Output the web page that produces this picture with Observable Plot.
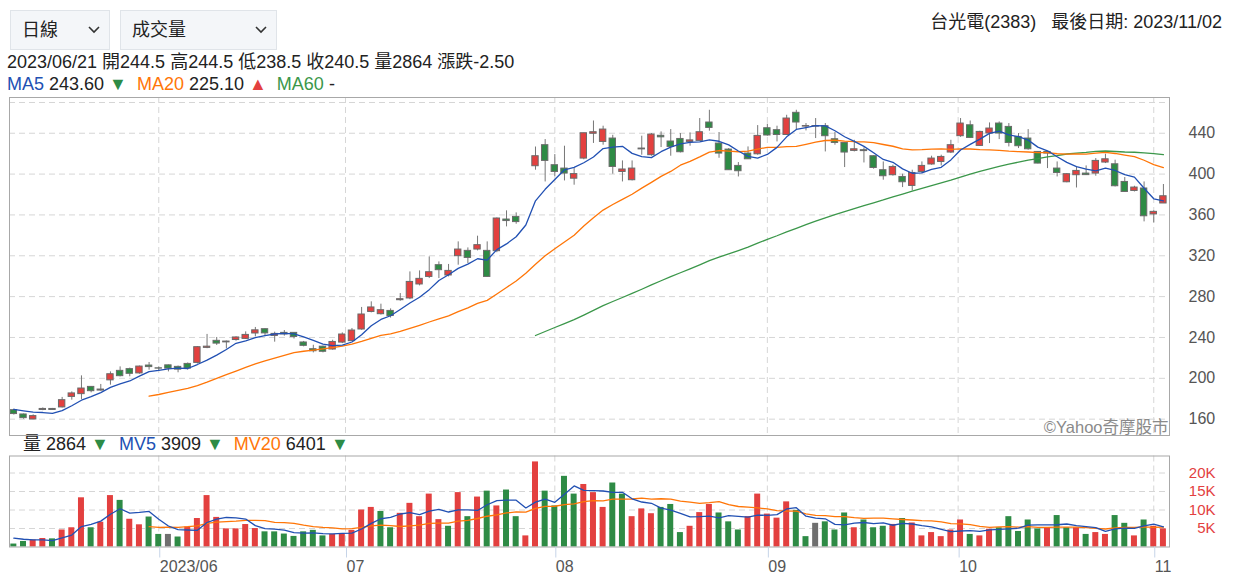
<!DOCTYPE html>
<html><head><meta charset="utf-8">
<script src="https://cdn.jsdelivr.net/npm/d3@7"></script>
<script src="https://cdn.jsdelivr.net/npm/@observablehq/plot@0.6"></script>
<style>
body{margin:0;background:#fff;font-family:"Liberation Sans","Noto Sans CJK TC",sans-serif;color:#222;}
#wrap{position:relative;width:1233px;height:588px;overflow:hidden;}
.sel{position:absolute;top:10px;height:40px;box-sizing:border-box;background:#f4f6f9;border:1px solid #e0e4e9;font-size:18px;line-height:38px;padding-left:11px;color:#222;}
.sel svg{position:absolute;right:9px;top:15px;}
#title{position:absolute;right:11px;top:11px;font-size:18px;line-height:22px;color:#222;white-space:pre;}
#info{position:absolute;left:7px;top:51px;font-size:18px;line-height:22px;white-space:pre;}
#ma{position:absolute;left:7px;top:73px;font-size:18px;line-height:22px;white-space:pre;}
#vleg{position:absolute;left:23px;top:433px;font-size:18px;line-height:22px;white-space:pre;}
#price{position:absolute;left:0;top:96px;}
#vol{position:absolute;left:0;top:455px;}
</style></head>
<body><div id="wrap">
<div class="sel" style="left:10px;width:100px">日線<svg width="12" height="8"><polyline points="1,1 6,6 11,1" fill="none" stroke="#333" stroke-width="1.6"/></svg></div>
<div class="sel" style="left:120px;width:157px">成交量<svg width="12" height="8"><polyline points="1,1 6,6 11,1" fill="none" stroke="#333" stroke-width="1.6"/></svg></div>
<div id="title"></div>
<div id="info"></div>
<div id="ma"></div>
<div id="vleg"></div>
<div id="price"></div>
<div id="vol"></div>
</div>
<script>
// ---- data ----
const stockName = "台光電(2383)";
const startDate = "2023-05-11";
const holidays = ["2023-06-22","2023-06-23","2023-08-03","2023-09-29","2023-10-09","2023-10-10"];
const selectedIndex = 29;
const preClose = [177, 167.5, 169.5, 172, 173.5];
const preVolume = [6800, 3000, 2900, 2300, 3000];
const open = [168.8,164.6,159.7,169,170,171.5,181.8,184.5,191.6,188,
198,207.3,209,204.8,212.5,209.8,212.7,211.2,214.1,215.1,
229.8,236.7,235.2,237.5,238.6,243.9,248.1,241.5,244.5,244.5,
235.1,228.5,231,228.2,235,236.4,247.8,265,262.8,266,
276.5,278.2,291.9,299.3,310.8,300.7,319.6,324.8,326.1,324.8,
324.5,355.5,358.1,388,407.7,428.3,408.7,405.4,395.5,415.2,
439.5,431.5,434.8,402.1,394,424.2,418.5,437.5,431.9,434.4,
431.5,432.5,450.5,429.9,424,408,420.1,419.4,444.9,443,
438.3,460,446.5,446.5,446.9,434.1,430.5,422.7,423.4,417.5,
403.8,398.9,397.2,388.4,402.1,409.4,411.9,421.1,437.1,447.8,
427.6,439.7,449.5,446.2,436.4,434.8,421.7,420.1,405.4,392,
398.9,400.5,400.5,411.3,409.6,392.3,383.5,385.9,360.5,371.2];
const high = [169.8,165,164.2,171,170.5,181.3,186.7,202.4,192,194,
206.3,211.2,210,212,215.5,211.2,213,212,215,231,
243,240,236.5,240.6,245.5,249.8,248.5,245.2,246.8,244.5,
236.1,232.4,231.5,237.3,244.5,248.8,269.4,274.9,272.6,268,
283,304.2,305.2,318.9,314,311.5,333.6,327.7,339.2,333.6,
357,364,362,388,426.5,433.8,419.1,427.3,405.4,440,
452,446.9,438,412.9,412.9,437.1,439.7,441.3,443.6,439.7,
440.3,454.4,462.5,440.7,425,411.3,426.6,447.5,448.8,446.9,
457.6,462.5,449.5,454.4,449.5,440.7,431,433.1,425.6,418,
411.9,408.7,399.9,403.8,411.9,417.5,418.5,433.1,454.4,452,
442,450.1,451.1,449.5,439.7,443.6,422,421.7,411.9,400.5,
407,408,415.2,419.4,413.6,396.6,388.1,392.3,364,389.8];
const low = [164,160,159.5,168.3,168.5,171,178.6,179.3,185.8,187.4,
193.3,201.4,201.5,204,208,207,206.3,205.4,208,214,
229,232.2,228.8,236.4,238,240.6,241.3,235.4,241.3,238.5,
230.8,224.9,224.9,227.5,234,236,247.1,264.1,262,259,
275.5,277,290.5,297.7,297.7,299.3,310.8,312.4,324.8,299,
323,348.3,350.9,388,403.8,392.3,397.2,393.3,389.1,414,
430,428.3,399.9,392.3,393.3,418.5,417.5,426,417.5,420.7,
427.3,432.5,442,415.5,403.8,397.2,414.3,418.5,437.1,431.5,
438,443.6,442.3,434.8,421.7,428.3,406.4,421.7,410.9,404.8,
394,398,386.8,383.5,400.5,408.7,408,420.1,436,434.8,
427,429.9,433.8,426.6,425,423.4,410,405.4,397.2,391.5,
386.4,398.6,397.9,410.3,387.4,382.5,382.5,353.2,352.2,371.2];
const close = [165,161,163,170,169,178.6,185.2,190,187.4,189,
204,202.1,204.4,211.5,211,209.5,209.5,208.5,209.5,230.5,
231,234,236,240,242.5,247,244,243.5,243,240.5,
231.8,226.5,226,235.6,242.9,246.8,262.5,269.4,266.7,261,
277.5,294.4,297.4,303.9,305.9,305.2,326.1,317.9,330.4,299.3,
356.5,354,353,388,417.5,412.9,402.1,400.5,400,440,
441,443.6,407,404.5,405.4,425,438.7,436,426.6,421.4,
433,441,445.2,420.1,403.8,402.8,414.5,437.4,437.8,438.3,
454.4,450.5,447,447,437.1,430.5,421.1,424.3,422.5,406,
397.9,407,392,401.1,408,415.2,416.8,428.3,449.5,435.4,
441.3,444.6,439.7,430.5,427.3,424.3,410.3,421.7,401.1,399.9,
403.1,399,412.9,414.5,388.1,382.5,386.8,358.7,363,378.3];
const volume = [800,1500,1900,2300,2200,4600,5200,13300,5200,6700,
13900,12600,7500,6000,8100,3400,3400,2700,5400,7700,
13900,8000,4900,4900,6075,4990,4100,4090,3501,2864,
4100,4500,3000,3400,3400,4500,10000,10700,9600,5200,
9100,11800,8200,14300,7400,5600,14700,8200,13500,15100,
11100,15400,8200,3000,23000,15100,11100,19100,14300,16900,
14700,10700,17300,14300,8200,10300,9000,10700,11500,3900,
5600,9300,11500,9200,6800,4600,8200,14300,8900,7800,
12200,9900,2800,6400,6800,4600,9200,5200,7300,5200,
5600,6100,7700,6500,3000,3900,2800,4600,7300,3400,
3000,4800,5200,8200,4200,7300,4900,5200,8500,5200,
5200,3400,3900,3400,8500,6400,3000,7300,5600,4900];
const monthStarts = ["2023-06-01","2023-07-01","2023-08-01","2023-09-01","2023-10-01","2023-11-01"];
const monthLabels = ["2023/06","07","08","09","10","11"];
const priceTicks = [160,200,240,280,320,360,400,440];
const volumeTicks = [5000,10000,15000,20000];

// ---- derived ----
const UP = "#e3403f", DOWN = "#2e8b45", FLAT = "#6f6f6f";
const BLUE = "#2150b3", ORANGE = "#ff7608", GREEN = "#3b974a";
const n = close.length;
const dates = [];
for (let t = Date.parse(startDate + "T00:00:00Z"); dates.length < n; t += 864e5) {
  const d = new Date(t), wd = d.getUTCDay(), iso = d.toISOString().slice(0, 10);
  if (wd === 0 || wd === 6 || holidays.includes(iso)) continue;
  dates.push(d);
}
const monthPos = monthStarts.map(s => {
  const t = Date.parse(s + "T00:00:00Z");
  const k = dates.findIndex(d => +d >= t);
  if (+dates[k] === t) return k;
  return k - 1 + (t - dates[k - 1]) / (dates[k] - dates[k - 1]);
});
const labelAt = new Map(monthPos.map((p, j) => [p, monthLabels[j]]));
const allClose = preClose.concat(close), allVol = preVolume.concat(volume), pre = preClose.length;
function movAvg(arr, k) {
  return d3.range(n).map(i => { const j = i + pre; return j - k + 1 < 0 ? NaN : d3.mean(arr.slice(j - k + 1, j + 1)); });
}
const ma5 = movAvg(allClose, 5), ma20 = movAvg(allClose, 20), ma60 = movAvg(allClose, 60);
const mv5 = movAvg(allVol, 5), mv20 = movAvg(allVol, 20);
const rows = d3.range(n).map(i => {
  const prev = allClose[i + pre - 1];
  return {i, o: open[i], h: high[i], l: low[i], c: close[i], v: volume[i],
    cc: close[i] > open[i] ? UP : close[i] < open[i] ? DOWN : FLAT,
    vc: close[i] > prev ? UP : close[i] < prev ? DOWN : FLAT,
    ma5: ma5[i], ma20: ma20[i], ma60: ma60[i], mv5: mv5[i], mv20: mv20[i]};
});
const fmtDate = d => d.toISOString().slice(0, 10).replace(/-/g, "/");
const xDomain = [-0.45, n - 0.37];
const font = '"Liberation Sans","Noto Sans CJK TC",sans-serif';
const grid = {stroke: "#d6d6d6", strokeDasharray: "6,4"};

// ---- header text ----
const s = rows[selectedIndex], sp = rows[selectedIndex - 1];
const arrow = (a, b) => a < b ? `<span style="color:${DOWN}">▼</span>` : `<span style="color:${UP}">▲</span>`;
const f2 = v => isNaN(v) ? "-" : v.toFixed(2);
document.getElementById("title").textContent = `${stockName}   最後日期: ${fmtDate(dates[n - 1])}`;
document.getElementById("info").textContent =
  `${fmtDate(dates[selectedIndex])} 開${s.o} 高${s.h} 低${s.l} 收${s.c} 量${s.v} 漲跌${(s.c - sp.c).toFixed(2)}`;
document.getElementById("ma").innerHTML =
  `<span style="color:${BLUE}">MA5</span> ${f2(s.ma5)} ${arrow(s.ma5, sp.ma5)}  <span style="color:${ORANGE}">MA20</span> ${f2(s.ma20)} ${arrow(s.ma20, sp.ma20)}  <span style="color:${GREEN}">MA60</span> ${f2(s.ma60)}`;
document.getElementById("vleg").innerHTML =
  `量 ${s.v} ${arrow(s.v, sp.v)}  <span style="color:${BLUE}">MV5</span> ${Math.round(s.mv5)} ${arrow(s.mv5, sp.mv5)}  <span style="color:${ORANGE}">MV20</span> ${Math.round(s.mv20)} ${arrow(s.mv20, sp.mv20)}`;

// ---- price panel ----
const yDom = [144, 475];
const price = Plot.plot({
  width: 1233, height: 340, marginTop: 1, marginBottom: 1, marginLeft: 9, marginRight: 64,
  style: {background: "transparent", fontFamily: font, fontSize: "16px", color: "#555"},
  x: {domain: xDomain, axis: null, label: null},
  y: {domain: yDom, axis: null, label: null},
  marks: [
    Plot.ruleY(priceTicks, grid),
    Plot.ruleY([yDom[1]], {...grid, dy: 5}),
    Plot.ruleX(monthPos, grid),
    Plot.ruleX(rows, {x: "i", y1: "l", y2: "h", stroke: "#777"}),
    Plot.rect(rows, {x1: d => d.i - 0.33, x2: d => d.i + 0.33, y1: "o", y2: "c", fill: "cc", stroke: "#6a6a6a", strokeWidth: 1}),
    Plot.line(rows, {x: "i", y: "ma60", stroke: GREEN, strokeWidth: 1.3}),
    Plot.line(rows, {x: "i", y: "ma20", stroke: ORANGE, strokeWidth: 1.3}),
    Plot.line(rows, {x: "i", y: "ma5", stroke: BLUE, strokeWidth: 1.3}),
    Plot.frame({stroke: "#a8a8a8"}),
    Plot.axisY(priceTicks, {anchor: "right", tickSize: 0, tickPadding: 19, fontSize: 16, fill: "#555", label: null}),
    Plot.text(["©Yahoo奇摩股市"], {frameAnchor: "bottom-right", dx: -1, dy: -3, textAnchor: "end", fontSize: 16.5, fill: "#8a8a8a"})
  ]
});
document.getElementById("price").append(price);

// ---- volume panel ----
const vol = Plot.plot({
  width: 1233, height: 133, marginTop: 0.5, marginBottom: 41.5, marginLeft: 9, marginRight: 64,
  style: {background: "transparent", fontFamily: font, fontSize: "16px", color: "#555"},
  x: {domain: xDomain, axis: null, label: null},
  y: {domain: [0, 24600], axis: null, label: null},
  marks: [
    Plot.ruleY(volumeTicks, grid),
    Plot.ruleX(monthPos, grid),
    Plot.rectY(rows, {x1: d => d.i - 0.31, x2: d => d.i + 0.31, y: "v", fill: "vc"}),
    Plot.line(rows, {x: "i", y: "mv20", stroke: ORANGE, strokeWidth: 1.3}),
    Plot.line(rows, {x: "i", y: "mv5", stroke: BLUE, strokeWidth: 1.3}),
    Plot.frame({stroke: "#a8a8a8"}),
    Plot.axisY(volumeTicks, {anchor: "right", tickSize: 0, tickPadding: 46, textAnchor: "end", tickFormat: d => d / 1000 + "K", fontSize: 15, fill: UP, label: null}),
    Plot.axisX(monthPos, {anchor: "bottom", tickSize: 11, tickPadding: 3, stroke: "#c6d4e8", fill: "#555", textAnchor: "start", dx: 1, fontSize: 16, label: null, tickFormat: d => labelAt.get(d)})
  ]
});
document.getElementById("vol").append(vol);
</script>
</body></html>
